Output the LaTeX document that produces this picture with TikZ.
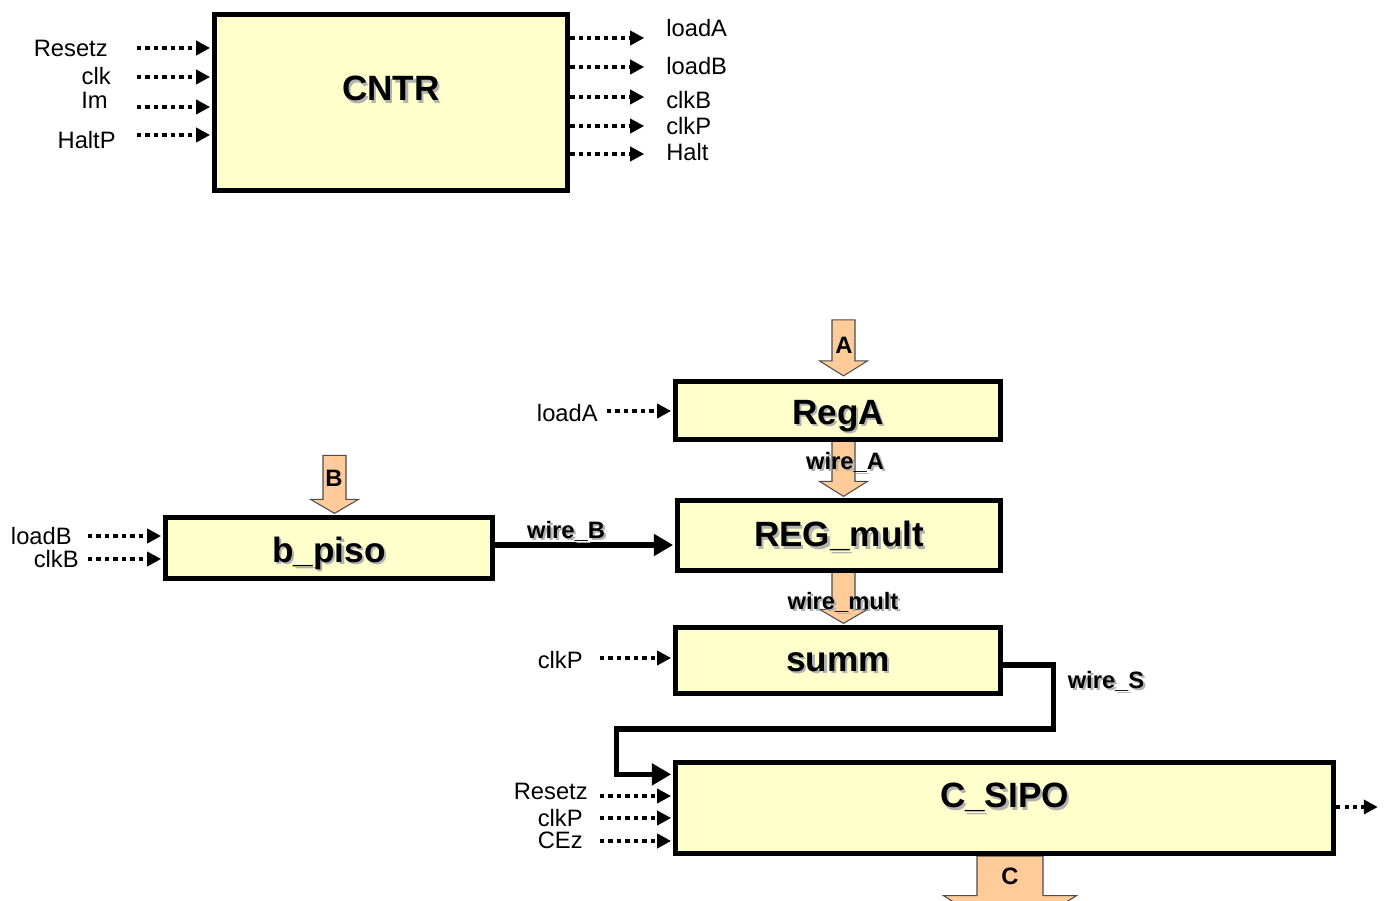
\documentclass[tikz,border=0pt]{standalone}
\usepackage{fontspec}
\setmainfont{Liberation Sans}
\usepackage{xcolor}
\usetikzlibrary{arrows.meta,backgrounds}

\definecolor{boxfill}{HTML}{FFFFCC}
\definecolor{busfill}{HTML}{FFCC99}
\newcommand{\shtxt}[1]{\rlap{\kern1.3pt\raisebox{-1.3pt}{\textcolor{black!30}{#1}}}#1}

\begin{document}
\begin{tikzpicture}[
  x=0.02cm, y=-0.02cm,
  font=\fontsize{13.5}{16}\selectfont,
  ttl/.style={font=\fontsize{20}{24}\selectfont\bfseries},
  blk/.style={draw, line width=3pt, fill=boxfill, inner sep=0pt},
  pin/.style={inner sep=0pt},
  wl/.style={inner sep=0pt, font=\fontsize{13.5}{16}\selectfont\bfseries},
  sig/.style={line width=2.2pt, dash pattern=on 2.5pt off 2.3pt,
              -{Triangle[length=8pt,width=8pt]}, shorten >=1pt},
  wire/.style={line width=3pt, -{Triangle[length=11pt,width=12pt]}, shorten >=1pt},
  bus/.style={draw=black!70, line width=0.6pt, fill=busfill},
]
\useasboundingbox (0,0) rectangle (1385,901);

% --- blocks ---------------------------------------------------------------
\node[blk, minimum width=7.06cm, minimum height=3.52cm,
      label={[ttl, yshift=0.25cm]center:\shtxt{CNTR}}] (cntr) at (391,102.5) {};
\node[blk, minimum width=6.5cm, minimum height=1.16cm,
      label={[ttl, yshift=-0.13cm]center:\shtxt{RegA}}] (rega) at (838,410.5) {};
\node[blk, minimum width=6.46cm, minimum height=1.4cm,
      label={[ttl, yshift=-0.04cm]center:\shtxt{REG\_mult}}] (regm) at (839,535.5) {};
\node[blk, minimum width=6.5cm, minimum height=1.32cm,
      label={[ttl, yshift=-0.06cm]center:\shtxt{summ}}] (summ) at (838,660.5) {};
\node[blk, minimum width=13.16cm, minimum height=1.82cm,
      label={[ttl, yshift=0.18cm]center:\shtxt{C\_SIPO}}] (csipo) at (1004.5,808) {};
\node[blk, minimum width=6.54cm, minimum height=1.22cm,
      label={[ttl, yshift=-0.13cm]center:\shtxt{b\_piso}}] (bpiso) at (329,548) {};

% --- CNTR pins --------------------------------------------------------------
\node[pin, anchor=east] (rst) at (108,48) {Resetz};
\node[pin, anchor=east] (clk) at (111,76) {clk};
\node[pin, anchor=east] (im) at (108,100) {Im};
\node[pin, anchor=east] (haltp) at (116,140) {HaltP};
\node[pin, anchor=west] (lda) at (666,28) {loadA};
\node[pin, anchor=west] (ldb) at (666,66) {loadB};
\node[pin, anchor=west] (ckb) at (666,100) {clkB};
\node[pin, anchor=west] (ckp) at (666,126) {clkP};
\node[pin, anchor=west] (halt) at (666,152) {Halt};

\draw[sig] ([xshift=0.58cm]rst.east) -- (rst.east -| cntr.west);
\draw[sig] ([xshift=0.52cm,yshift=-0.02cm]clk.east) -- ([yshift=-0.02cm]clk.east -| cntr.west);
\draw[sig] ([xshift=0.58cm,yshift=-0.14cm]im.east) -- ([yshift=-0.14cm]im.east -| cntr.west);
\draw[sig] ([xshift=0.42cm,yshift=0.1cm]haltp.east) -- ([yshift=0.1cm]haltp.east -| cntr.west);
\draw[sig] ([yshift=-0.2cm]lda.west -| cntr.east) -- ([xshift=-0.4cm,yshift=-0.2cm]lda.west);
\draw[sig] ([yshift=-0.02cm]ldb.west -| cntr.east) -- ([xshift=-0.4cm,yshift=-0.02cm]ldb.west);
\draw[sig] ([yshift=0.06cm]ckb.west -| cntr.east) -- ([xshift=-0.4cm,yshift=0.06cm]ckb.west);
\draw[sig] (ckp.west -| cntr.east) -- ([xshift=-0.4cm]ckp.west);
\draw[sig] ([yshift=-0.04cm]halt.west -| cntr.east) -- ([xshift=-0.4cm,yshift=-0.04cm]halt.west);

% --- datapath pins ----------------------------------------------------------
\node[pin, anchor=east] (lda2) at (598,413) {loadA};
\node[pin, anchor=east] (ldb2) at (72,536) {loadB};
\node[pin, anchor=east] (ckb2) at (79,559) {clkB};
\node[pin, anchor=east] (ckp2) at (583,660) {clkP};
\node[pin, anchor=east] (rst2) at (588,791) {Resetz};
\node[pin, anchor=east] (ckp3) at (583,818) {clkP};
\node[pin, anchor=east] (cez) at (583,840) {CEz};

\draw[sig] ([xshift=0.18cm,yshift=0.04cm]lda2.east) -- ([yshift=0.04cm]lda2.east -| rega.west);
\draw[sig] ([xshift=0.32cm]ldb2.east) -- (ldb2.east -| bpiso.west);
\draw[sig] ([xshift=0.18cm]ckb2.east) -- (ckb2.east -| bpiso.west);
\draw[sig] ([xshift=0.34cm,yshift=0.04cm]ckp2.east) -- ([yshift=0.04cm]ckp2.east -| summ.west);
\draw[sig] ([xshift=0.24cm,yshift=-0.1cm]rst2.east) -- ([yshift=-0.1cm]rst2.east -| csipo.west);
\draw[sig] ([xshift=0.34cm]ckp3.east) -- (ckp3.east -| csipo.west);
\draw[sig] ([xshift=0.34cm,yshift=-0.02cm]cez.east) -- ([yshift=-0.02cm]cez.east -| csipo.west);
\draw[sig] ([yshift=0.02cm]csipo.east) -- ++(43.5,0);

% --- wires ------------------------------------------------------------------
\draw[wire] ([yshift=0.06cm]bpiso.east) -- ([yshift=0.06cm]bpiso.east -| regm.west);
\draw[wire] ([yshift=-0.09cm]summ.east) -- ++(50.5,0) -- ++(0,64) -- ++(-437,0)
            |- ([yshift=-0.29cm]csipo.north west);

% --- buses (fat arrows), behind the blocks ----------------------------------
\begin{scope}[on background layer]
  \draw[bus] ([xshift=0.11cm,yshift=0.06cm]rega.north) -- ++(-24,-15) -- ++(12.5,0)
             -- ++(0,-41) -- ++(23,0) -- ++(0,41) -- ++(12.5,0) -- cycle;
  \draw[bus] ([xshift=0.09cm,yshift=0.03cm]regm.north) -- ++(-24,-15) -- ++(12.5,0)
             -- ++(0,-47) -- ++(23,0) -- ++(0,47) -- ++(12.5,0) -- cycle;
  \draw[bus] ([xshift=0.11cm,yshift=0.03cm]summ.north) -- ++(-24,-14) -- ++(12.5,0)
             -- ++(0,-42) -- ++(23,0) -- ++(0,42) -- ++(12.5,0) -- cycle;
  \draw[bus] ([xshift=0.11cm,yshift=0.03cm]bpiso.north) -- ++(-24,-14) -- ++(12.5,0)
             -- ++(0,-44) -- ++(23,0) -- ++(0,44) -- ++(12.5,0) -- cycle;
  \draw[bus] ([xshift=0.11cm]csipo.south) ++(-33,0) -- ++(0,39.5) -- ++(-33.5,0)
             -- ++(66.5,42) -- ++(66.5,-42) -- ++(-33.5,0) -- ++(0,-39.5) -- cycle;
\end{scope}

% --- bus and wire names -----------------------------------------------------
\node[wl] (la) at (844,345) {A};
\node[wl] (lb) at (334,478) {B};
\node[wl] (lc) at (1010,876) {C};
\node[wl] (wa) at (845,463) {\shtxt{wire\_A}};
\node[wl] (wm) at (843,603) {\shtxt{wire\_mult}};
\node[wl] (wb) at (566,532) {\shtxt{wire\_B}};
\node[wl] (ws) at (1106,682) {\shtxt{wire\_S}};
\end{tikzpicture}
\end{document}
